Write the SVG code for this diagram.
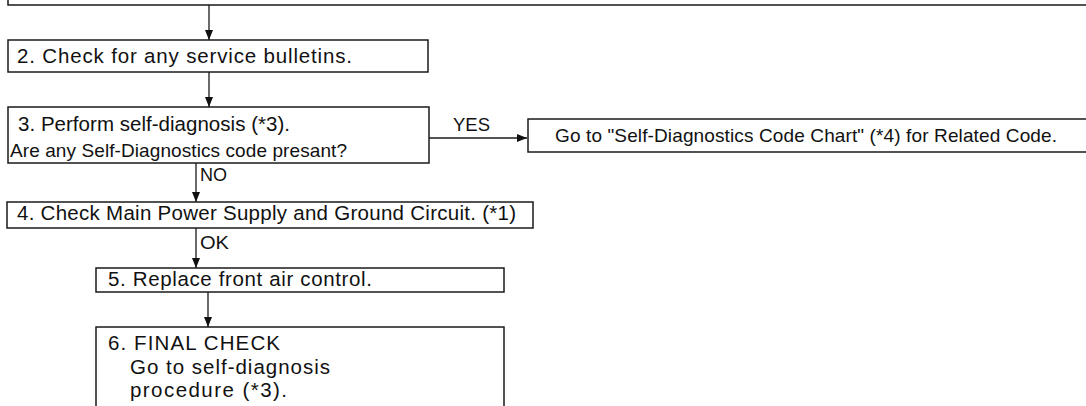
<svg xmlns="http://www.w3.org/2000/svg" width="1086" height="406" viewBox="0 0 1086 406">
<defs>
<marker id="ah" markerWidth="10" markerHeight="8" refX="10" refY="4" orient="auto" markerUnits="userSpaceOnUse">
<path d="M0,0 L10,4 L0,8 Z" fill="#111"/>
</marker>
<style>
.box{fill:#fff;stroke:#1a1a1a;stroke-width:1.5}
.ln{fill:none;stroke:#1a1a1a;stroke-width:1.3}
.t{font-family:"Liberation Sans",Arial,sans-serif;font-size:20.5px;fill:#111}
.s{font-size:19px}
</style>
</defs>
<rect width="1086" height="406" fill="#fff"/>
<g id="connectors">
<line class="ln" x1="209" y1="5" x2="209" y2="40" marker-end="url(#ah)"/>
<line class="ln" x1="209" y1="72" x2="209" y2="107" marker-end="url(#ah)"/>
<line class="ln" x1="429" y1="138" x2="527" y2="138" marker-end="url(#ah)"/>
<line class="ln" x1="196" y1="163" x2="196" y2="202" marker-end="url(#ah)"/>
<line class="ln" x1="196" y1="228" x2="196" y2="268" marker-end="url(#ah)"/>
<line class="ln" x1="208" y1="292" x2="208" y2="327" marker-end="url(#ah)"/>
<text class="t s" x="453" y="131" textLength="37" lengthAdjust="spacingAndGlyphs">YES</text>
<text class="t s" x="200" y="181" textLength="27" lengthAdjust="spacingAndGlyphs">NO</text>
<text class="t s" x="200" y="249" textLength="29" lengthAdjust="spacingAndGlyphs">OK</text>
</g>
<g id="node1">
<path class="box" d="M8,-2 L8,5 L1090,5" style="fill:none"/>
</g>
<g id="node2">
<rect class="box" x="8" y="40" width="420" height="32"/>
<text class="t" x="17" y="63" textLength="335" lengthAdjust="spacing">2. Check for any service bulletins.</text>
</g>
<g id="node3">
<rect class="box" x="8" y="107" width="421" height="56"/>
<text class="t" x="18" y="131" textLength="272" lengthAdjust="spacing">3. Perform self-diagnosis (*3).</text>
<text class="t s" x="10" y="157" textLength="337" lengthAdjust="spacing">Are any Self-Diagnostics code presant?</text>
</g>
<g id="nodeYes">
<path class="box" d="M1090,119 L528,119 L528,152 L1090,152"/>
<text class="t s" x="555" y="142" textLength="502" lengthAdjust="spacing">Go to "Self-Diagnostics Code Chart" (*4) for Related Code.</text>
</g>
<g id="node4">
<rect class="box" x="7" y="202" width="526" height="26"/>
<text class="t" x="17" y="220" textLength="499" lengthAdjust="spacing">4. Check Main Power Supply and Ground Circuit. (*1)</text>
</g>
<g id="node5">
<rect class="box" x="96" y="268" width="408" height="24"/>
<text class="t" x="108" y="286" textLength="264" lengthAdjust="spacing">5. Replace front air control.</text>
</g>
<g id="node6">
<path class="box" d="M96,410 L96,327 L504,327 L504,410"/>
<text class="t" x="108" y="350" textLength="172" lengthAdjust="spacing">6. FINAL CHECK</text>
<text class="t" x="130" y="374" textLength="200" lengthAdjust="spacing">Go to self-diagnosis</text>
<text class="t" x="130" y="397" textLength="157" lengthAdjust="spacing">procedure (*3).</text>
</g>
</svg>
